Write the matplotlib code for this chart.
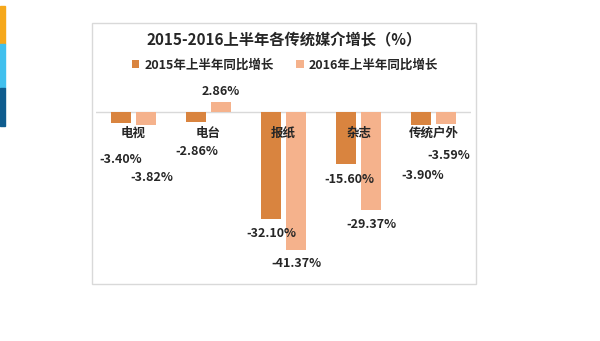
import numpy as np
import matplotlib.pyplot as plt
from matplotlib.patches import Rectangle

plt.rcParams['font.family'] = ['Noto Sans CJK SC', 'DejaVu Sans']

categories = ['电视', '电台', '报纸', '杂志', '传统户外']
growth_2015 = [-3.40, -2.86, -32.10, -15.60, -3.90]
growth_2016 = [-3.82, 2.86, -41.37, -29.37, -3.59]
series_names = ['2015年上半年同比增长', '2016年上半年同比增长']
title = '2015-2016上半年各传统媒介增长（%）'

# label nudges in pixels (dx, dy) -- the small bars have labels pushed below the category names
offsets_2015 = [(0, -36), (1, -30), (0, -14), (3, -15), (2, -50)]
offsets_2016 = [(6, -53), (0, 11), (0, -13), (0, -14), (3, -32)]

C2015 = '#D9843F'
C2016 = '#F5B28C'
TXT = '#262626'

W, H = 600, 341
fig = plt.figure(figsize=(W / 100, H / 100), dpi=100)

# left accent stripes
for y0, y1, c in [(6, 44, '#F6A81B'), (44, 88, '#41C0EE'), (88, 126, '#0E5C8E')]:
    fig.patches.append(Rectangle((0, 1 - y1 / H), 5 / W, (y1 - y0) / H,
                                 transform=fig.transFigure, color=c, zorder=0))

# chart frame
fig.patches.append(Rectangle((92 / W, 1 - 284 / H), (476 - 92) / W, (284 - 23) / H,
                             transform=fig.transFigure, fill=False, edgecolor='#D9D9D9', lw=1))

px = 3.34  # pixels per percent
top_px, bot_px, zero_px = 90, 270, 112
ax = fig.add_axes([96 / W, 1 - bot_px / H, (471 - 96) / W, (bot_px - top_px) / H])
ax.set_xlim(-0.5, len(categories) - 0.5)
ax.set_ylim(-(bot_px - zero_px) / px, (zero_px - top_px) / px)
ax.axis('off')

x = np.arange(len(categories))
bw = 20 / 75
sh = 12.5 / 75
ax.bar(x - sh, growth_2015, bw, color=C2015, label=series_names[0])
ax.bar(x + sh, growth_2016, bw, color=C2016, label=series_names[1])
ax.axhline(0, color='#D9D9D9', lw=1, zorder=0)

for i, name in enumerate(categories):
    ax.annotate(name, (i, 0), xytext=(0, -21 * 0.72), textcoords='offset points',
                ha='center', va='center', fontsize=9, fontweight='bold', color=TXT)

for xs, vals, offs in [(x - sh, growth_2015, offsets_2015), (x + sh, growth_2016, offsets_2016)]:
    for xi, v, (dx, dy) in zip(xs, vals, offs):
        ax.annotate(f'{v:.2f}%', (xi, v), xytext=(dx * 0.72, dy * 0.72), textcoords='offset points',
                    ha='center', va='center', fontsize=9, fontweight='bold', color=TXT)

fig.text(284 / W, 1 - 40 / H, title, ha='center', va='center', fontsize=11,
         fontweight='bold', color=TXT)

leg = fig.legend(loc='center', bbox_to_anchor=(285 / W, 1 - 65 / H), ncol=2, frameon=False,
                 fontsize=9, handlelength=0.6, handleheight=0.6, handletextpad=0.4,
                 columnspacing=1.8, prop={'weight': 'bold', 'size': 9})
for t in leg.get_texts():
    t.set_color(TXT)

fig.savefig('out.png', dpi=100)
